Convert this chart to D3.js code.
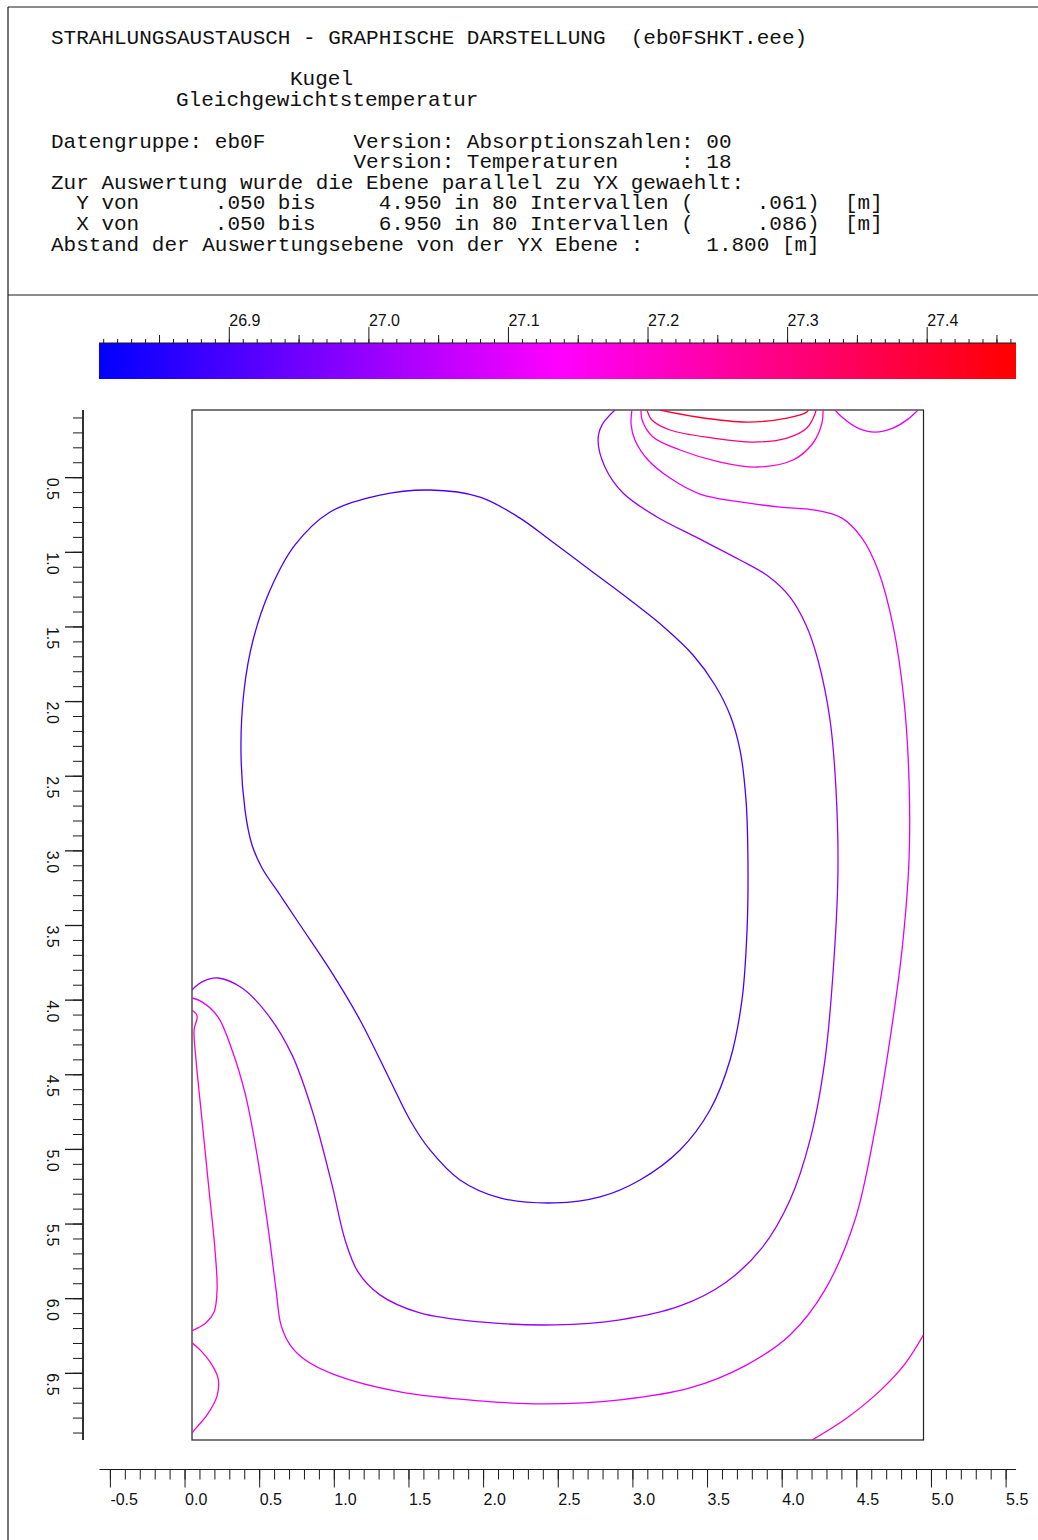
<!DOCTYPE html>
<html><head><meta charset="utf-8">
<script src="https://cdn.jsdelivr.net/npm/d3@7"></script>
<style>
html,body{margin:0;padding:0;background:#fff;}
svg{display:block;}
.mono{font-family:"Liberation Mono","Courier New",monospace;font-size:21px;fill:#111;white-space:pre;}
.ax text{font-family:"Liberation Sans",Arial,sans-serif;font-size:16px;fill:#111;}
</style></head><body>
<svg id="chart" width="1038" height="1540"></svg>
<script>
// ---------- header text ----------
const headerLines = [
  "STRAHLUNGSAUSTAUSCH - GRAPHISCHE DARSTELLUNG  (eb0FSHKT.eee)",
  "Kugel",
  "Gleichgewichtstemperatur",
  "Datengruppe: eb0F       Version: Absorptionszahlen: 00",
  "                        Version: Temperaturen     : 18",
  "Zur Auswertung wurde die Ebene parallel zu YX gewaehlt:",
  "  Y von      .050 bis     4.950 in 80 Intervallen (     .061)  [m]",
  "  X von      .050 bis     6.950 in 80 Intervallen (     .086)  [m]",
  "Abstand der Auswertungsebene von der YX Ebene :     1.800 [m]"
];
const headerX = [51, 290, 176, 51, 51, 51, 51, 51, 51];
const headerY = [44, 85, 106, 148, 168, 189, 209, 230, 251];

// ---------- scales / ticks ----------
const horizDomain = [0.05, 4.95];   // Y [m]
const vertDomain = [0.05, 6.95];    // X [m]
const colorbarDomain = [26.807, 27.464];
const colorbarLabels = [26.9, 27.0, 27.1, 27.2, 27.3, 27.4];
const xTickLabels = [-0.5, 0.0, 0.5, 1.0, 1.5, 2.0, 2.5, 3.0, 3.5, 4.0, 4.5, 5.0, 5.5];
const yTickLabels = [0.5, 1.0, 1.5, 2.0, 2.5, 3.0, 3.5, 4.0, 4.5, 5.0, 5.5, 6.0, 6.5];

// ---------- isolines ([horizontal, vertical] in m) ----------
const contour269 = [[1.644,0.586],[1.979,0.633],[2.247,0.774],[2.448,0.921],[2.716,1.122],[2.984,1.323],[3.218,1.510],[3.406,1.691],[3.553,1.892],[3.654,2.093],[3.721,2.328],[3.761,2.662],[3.774,3.064],[3.768,3.533],[3.734,4.002],[3.654,4.404],[3.520,4.739],[3.319,5.007],[3.051,5.208],[2.783,5.322],[2.482,5.362],[2.113,5.328],[1.845,5.208],[1.644,5.007],[1.510,4.806],[1.376,4.538],[1.175,4.136],[0.975,3.801],[0.774,3.500],[0.640,3.299],[0.519,3.118],[0.452,2.964],[0.405,2.729],[0.378,2.328],[0.399,1.926],[0.459,1.591],[0.573,1.256],[0.740,0.954],[0.975,0.733],[1.309,0.620]];
const contour270 = [[0.050,3.935],[0.117,3.881],[0.224,3.855],[0.385,3.922],[0.559,4.102],[0.720,4.370],[0.854,4.739],[0.988,5.241],[1.075,5.609],[1.162,5.824],[1.309,5.978],[1.577,6.099],[1.979,6.159],[2.482,6.179],[2.917,6.145],[3.319,6.052],[3.620,5.898],[3.868,5.663],[4.056,5.342],[4.190,4.940],[4.290,4.404],[4.350,3.734],[4.377,3.131],[4.364,2.595],[4.324,2.127],[4.243,1.725],[4.163,1.490],[4.056,1.303],[3.908,1.162],[3.721,1.055],[3.439,0.908],[3.165,0.767],[2.937,0.606],[2.816,0.432],[2.770,0.251],[2.796,0.151],[2.883,0.050]];
const contour271a = [[0.050,3.989],[0.117,4.015],[0.224,4.116],[0.318,4.337],[0.405,4.625],[0.472,4.960],[0.559,5.522],[0.613,5.944],[0.646,6.179],[0.707,6.313],[0.807,6.413],[1.008,6.514],[1.443,6.628],[1.979,6.688],[2.415,6.708],[2.917,6.681],[3.386,6.601],[3.754,6.453],[4.056,6.246],[4.290,5.944],[4.491,5.476],[4.625,4.873],[4.725,4.270],[4.806,3.667],[4.853,3.064],[4.853,2.528],[4.819,1.993],[4.745,1.490],[4.645,1.122],[4.538,0.908],[4.404,0.774],[4.223,0.720],[3.989,0.700],[3.721,0.666],[3.453,0.613],[3.252,0.506],[3.105,0.385],[3.017,0.251],[2.991,0.144],[2.997,0.050]];
const contour271b = [[4.357,0.050],[4.411,0.104],[4.511,0.171],[4.625,0.198],[4.745,0.171],[4.846,0.111],[4.913,0.050]];
const contour272a = [[0.050,4.069],[0.084,4.109],[0.064,4.203],[0.077,4.404],[0.117,4.806],[0.164,5.275],[0.204,5.676],[0.218,5.944],[0.198,6.092],[0.144,6.165],[0.090,6.199],[0.050,6.219]];
const contour272b = [[0.050,6.299],[0.104,6.346],[0.171,6.427],[0.224,6.534],[0.218,6.654],[0.151,6.782],[0.084,6.862],[0.050,6.903]];
const contour272c = [[4.203,6.950],[4.437,6.802],[4.658,6.621],[4.826,6.440],[4.950,6.246]];
const contour272d = [[3.058,0.050],[3.065,0.117],[3.138,0.231],[3.319,0.318],[3.587,0.399],[3.835,0.432],[4.076,0.385],[4.210,0.271],[4.270,0.137],[4.277,0.050]];
const contour273 = [[3.098,0.050],[3.131,0.117],[3.252,0.184],[3.540,0.238],[3.808,0.265],[4.036,0.238],[4.169,0.171],[4.223,0.077],[4.230,0.050]];
const contour274 = [[3.185,0.050],[3.433,0.097],[3.768,0.131],[4.036,0.104],[4.169,0.064],[4.176,0.050]];

const isolines = [
  {level: 26.9, closed: true,  pts: contour269},
  {level: 27.0, closed: false, pts: contour270},
  {level: 27.1, closed: false, pts: contour271a},
  {level: 27.1, closed: false, pts: contour271b},
  {level: 27.2, closed: false, pts: contour272a},
  {level: 27.2, closed: false, pts: contour272b},
  {level: 27.2, closed: false, pts: contour272c},
  {level: 27.2, closed: false, pts: contour272d},
  {level: 27.3, closed: false, pts: contour273},
  {level: 27.4, closed: false, pts: contour274}
];

// ---------- drawing ----------
const svg = d3.select("#chart");
const ink = "#1a1a1a";

// frame lines
svg.append("line").attr("x1",8).attr("x2",8).attr("y1",7).attr("y2",1540).attr("stroke",ink).attr("stroke-width",1.2);
svg.append("line").attr("x1",8).attr("x2",1038).attr("y1",7).attr("y2",7).attr("stroke",ink).attr("stroke-width",1.2);
svg.append("line").attr("x1",8).attr("x2",1038).attr("y1",295).attr("y2",295).attr("stroke",ink).attr("stroke-width",1.2);

// header
svg.append("g").selectAll("text").data(headerLines).join("text")
  .attr("class","mono")
  .attr("x",(d,i)=>headerX[i]).attr("y",(d,i)=>headerY[i])
  .attr("xml:space","preserve")
  .text(d=>d);

// scales
const x = d3.scaleLinear().domain(horizDomain).range([192, 923.5]);
const y = d3.scaleLinear().domain(vertDomain).range([410, 1440]);
const cx = d3.scaleLinear().domain(colorbarDomain).range([99, 1016]);
const cMid = (colorbarDomain[0]+colorbarDomain[1])/2;
const color = d3.scaleLinear().domain([colorbarDomain[0], cMid, colorbarDomain[1]])
  .range(["#0000ff","#ff00ff","#ff0000"]).interpolate(d3.interpolateRgb);

// colorbar
const defs = svg.append("defs");
const grad = defs.append("linearGradient").attr("id","cbar").attr("x1","0%").attr("x2","100%").attr("y1","0%").attr("y2","0%");
d3.range(0, 1.0001, 0.05).forEach(t=>{
  const v = colorbarDomain[0] + t*(colorbarDomain[1]-colorbarDomain[0]);
  grad.append("stop").attr("offset",(t*100)+"%").attr("stop-color",color(v));
});
svg.append("rect").attr("x",cx(colorbarDomain[0])).attr("y",343)
  .attr("width",cx(colorbarDomain[1])-cx(colorbarDomain[0])).attr("height",36)
  .attr("fill","url(#cbar)");

const cbMinor = d3.range(2681, 2747).map(d=>d/100);
const cbMedium = d3.range(2685, 2747, 10).map(d=>d/100);
function styleAxis(g){ g.attr("color",ink); g.select(".domain").remove(); g.selectAll("line").attr("stroke-width",1); }
svg.append("g").attr("class","ax").attr("transform","translate(0,343)")
  .call(d3.axisTop(cx).tickValues(cbMinor).tickSize(4).tickFormat("")).call(styleAxis);
svg.append("g").attr("class","ax").attr("transform","translate(0,343)")
  .call(d3.axisTop(cx).tickValues(cbMedium).tickSize(8).tickFormat("")).call(styleAxis);
const cbMaj = svg.append("g").attr("class","ax").attr("transform","translate(0,343)")
  .call(d3.axisTop(cx).tickValues(colorbarLabels).tickSize(16).tickFormat(d=>d.toFixed(1))).call(styleAxis);
cbMaj.selectAll("text").attr("text-anchor","start").attr("x",0).attr("y",-17).attr("dy",null).style("font-size","16px");
svg.append("line").attr("x1",99).attr("x2",1016).attr("y1",343).attr("y2",343).attr("stroke",ink).attr("stroke-width",1);

// plot frame
svg.append("rect").attr("x",x(horizDomain[0])).attr("y",y(vertDomain[0]))
  .attr("width",x(horizDomain[1])-x(horizDomain[0])).attr("height",y(vertDomain[1])-y(vertDomain[0]))
  .attr("fill","none").attr("stroke","#222").attr("stroke-width",1.2);

// clip
defs.append("clipPath").attr("id","plotclip").append("rect")
  .attr("x",x(horizDomain[0])).attr("y",y(vertDomain[0]))
  .attr("width",x(horizDomain[1])-x(horizDomain[0])).attr("height",y(vertDomain[1])-y(vertDomain[0]));

// isolines
const lineOpen = d3.line().x(d=>x(d[0])).y(d=>y(d[1])).curve(d3.curveCatmullRom.alpha(0.5));
const lineClosed = d3.line().x(d=>x(d[0])).y(d=>y(d[1])).curve(d3.curveCatmullRomClosed.alpha(0.5));
svg.append("g").attr("clip-path","url(#plotclip)").selectAll("path").data(isolines).join("path")
  .attr("d", d=> d.closed ? lineClosed(d.pts) : lineOpen(d.pts))
  .attr("fill","none").attr("stroke", d=>color(d.level)).attr("stroke-width",1.3);

// bottom axis
const xMinor = d3.range(-5, 56).map(d=>d/10);
const axY = 1469.5;
svg.append("g").attr("class","ax").attr("transform",`translate(0,${axY})`)
  .call(d3.axisBottom(x).tickValues(xMinor).tickSize(10).tickFormat("")).call(styleAxis);
const gxM = svg.append("g").attr("class","ax").attr("transform",`translate(0,${axY})`)
  .call(d3.axisBottom(x).tickValues(xTickLabels).tickSize(18).tickFormat(d=>d.toFixed(1))).call(styleAxis);
gxM.selectAll("text").attr("text-anchor","start").attr("x",0).attr("y",35.5).attr("dy",null);
svg.append("line").attr("x1",x(-0.57)).attr("x2",x(5.57)).attr("y1",axY).attr("y2",axY).attr("stroke",ink).attr("stroke-width",1.2);

// left axis
const yMinor = d3.range(1, 70).map(d=>d/10);
const axX = 83;
svg.append("g").attr("class","ax").attr("transform",`translate(${axX},0)`)
  .call(d3.axisLeft(y).tickValues(yMinor).tickSize(10).tickFormat("")).call(styleAxis);
const gyM = svg.append("g").attr("class","ax").attr("transform",`translate(${axX},0)`)
  .call(d3.axisLeft(y).tickValues(yTickLabels).tickSize(18).tickFormat(d=>d.toFixed(1))).call(styleAxis);
gyM.selectAll("line").attr("stroke-width",1.3);
gyM.selectAll("text").attr("text-anchor","start").attr("x",0).attr("y",36).attr("dy",null).attr("transform","rotate(90)");
svg.append("line").attr("x1",axX).attr("x2",axX).attr("y1",y(vertDomain[0])).attr("y2",y(vertDomain[1])).attr("stroke",ink).attr("stroke-width",1.8);
</script>
</body></html>
